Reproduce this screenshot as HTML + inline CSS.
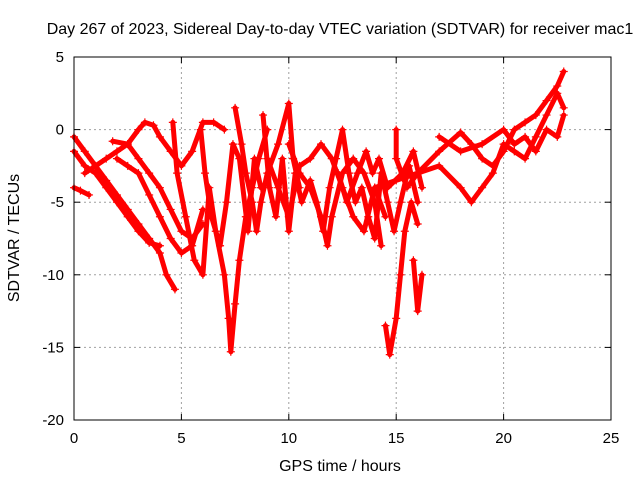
<!DOCTYPE html>
<html><head><meta charset="utf-8"><style>
html,body{margin:0;padding:0;background:#fff;}
svg{display:block;font-family:"Liberation Sans",sans-serif;}
</style></head><body>
<svg id="chart" width="640" height="480" viewBox="0 0 640 480">
<text x="340" y="34" font-size="16" text-anchor="middle">Day 267 of 2023, Sidereal Day-to-day VTEC variation (SDTVAR) for receiver mac1</text>
<text x="340" y="471" font-size="16" text-anchor="middle">GPS time / hours</text>
<text x="19" y="238" font-size="16" text-anchor="middle" transform="rotate(-90 19 238)">SDTVAR / TECUs</text>
<g id="grid"></g><g id="ticks"></g><g id="series"></g>
<rect x="74" y="57" width="537" height="363" fill="none" stroke="#000" stroke-width="1"/>
</svg>
<script>
const xTicks=[0,5,10,15,20,25];
const yTicks=[-20,-15,-10,-5,0,5];
const trackA=[[0,-0.5],[0.5,-1.5],[1,-2.5],[1.5,-3.5],[2,-4.5],[2.5,-5.5],[3,-6.5],[3.5,-7.5],[4,-8.5],[4.3,-10],[4.7,-11]];
const trackB=[[0,-1.5],[0.5,-2.5],[1,-3],[1.5,-4],[2,-5],[2.5,-6],[3,-7],[3.5,-7.8],[4,-8]];
const trackC=[[1.8,-0.8],[2.5,-1],[3,-2],[3.5,-3],[4,-4],[4.5,-5.5],[5,-7],[5.5,-7.5],[6,-6.5]];
const trackD=[[0.5,-3],[1,-2.5],[1.5,-2],[2,-1.5],[2.5,-1],[3,0],[3.3,0.5],[3.7,0.3],[4,-0.5],[4.5,-1.5],[5,-2.5],[5.5,-1.5],[6,0.5],[6.5,0.5],[7,0]];
const trackE=[[0,-4],[0.3,-4.2],[0.7,-4.5]];
const trackF=[[2,-2],[2.5,-2.5],[3,-3],[3.5,-4.5],[4,-6],[4.5,-7.5],[5,-8.5],[5.5,-8],[6,-5.5]];
const trackG=[[4.6,0.5],[4.8,-3],[5.2,-6],[5.6,-9],[6,-10],[6.3,-4],[6.6,-7],[7,-10],[7.2,-13],[7.3,-15.3],[7.5,-12],[7.7,-9],[8,-6],[8.3,-4],[8.6,-2],[9,0]];
const trackH=[[7.5,1.5],[7.8,-1],[8,-3],[8.3,-5],[8.5,-7],[8.7,-5],[9,-3],[9.5,-1],[10,1.8],[10.2,-2],[10.5,-4]];
const trackI=[[10,-1],[10.5,-3],[11,-4],[11.5,-6],[11.8,-8],[12,-6],[12.5,-3],[13,-2],[13.5,-3],[14,-5],[14.3,-8]];
const trackJ=[[14.5,-13.5],[14.7,-15.5],[15,-13],[15.2,-10],[15.4,-7],[15.7,-5],[16,-6.5]];
const trackK=[[15,0],[15,-2],[15.5,-4],[16,-3]];
const trackL=[[15.8,-9],[16,-12.5],[16.2,-10]];
const trackM=[[9,-2],[9.5,-4],[10,-6],[10.5,-2.5],[11,-2],[11.5,-1],[12,-2],[12.5,-4],[13,-6],[13.5,-7],[14,-4],[14.5,-6]];
const trackN=[[14,-4],[15,-3.5],[16,-3],[17,-1.5],[18,-0.2],[18.5,-1],[19,-2],[19.5,-2.5],[20,-1.5],[20.5,0],[21,0.5],[21.5,1],[22,2],[22.5,3],[22.8,4]];
const trackO=[[16,-3],[17,-2.5],[18,-4],[18.5,-5],[19,-4],[19.5,-3],[20,-1],[20.5,-1.5],[21,-2],[21.5,-0.5],[22,1],[22.5,2.5],[22.8,1.5]];
const trackP=[[17,-0.5],[18,-1.5],[19,-1],[20,0],[20.5,-1],[21,-0.5],[21.5,-1.5],[22,0],[22.5,-0.5],[22.8,1]];
const trackQ=[[8.8,1],[9.1,-4],[9.4,-6],[9.7,-2],[10,-7],[10.3,-3],[10.6,-5],[11,-3.5],[11.3,-5],[11.6,-7],[11.9,-4],[12.2,-2],[12.5,0],[12.8,-3],[13.1,-5],[13.4,-4],[13.7,-6],[14,-7.5],[14.3,-3],[14.6,-5],[14.9,-7],[15.2,-5],[15.6,-2.5],[16,-5]];
const trackR=[[5.9,0],[6.1,-3],[6.4,-6],[6.8,-8],[7.1,-5],[7.4,-1],[7.7,-2],[8.1,-7],[8.4,-2],[8.7,-4]];
const trackS=[[12.3,-3],[12.7,-5],[13.2,-3],[13.6,-1.5],[13.9,-3],[14.2,-2],[14.6,-4],[15.3,-3],[15.8,-1.5],[16.2,-4]];
const tracks=[trackA,trackB,trackC,trackD,trackE,trackF,trackG,trackH,trackI,trackJ,trackK,trackL,trackM,trackN,trackO,trackP,trackQ,trackR,trackS];
const NS="http://www.w3.org/2000/svg";
const X0=74,X1=611,Y0=420,Y1=57;
function sx(v){return X0+(v-0)/(25-0)*(X1-X0);}
function sy(v){return Y0-(v+20)/25*(Y0-Y1);}
const grid=document.getElementById('grid'),ticks=document.getElementById('ticks'),series=document.getElementById('series');
function mk(tag,attrs,parent){const e=document.createElementNS(NS,tag);for(const k in attrs)e.setAttribute(k,attrs[k]);parent.appendChild(e);return e;}
xTicks.forEach(t=>{
 const x=sx(t);
 if(t>0&&t<25){const g=mk('line',{x1:x,x2:x,y1:Y1,y2:Y0,stroke:'#a0a0a0','stroke-dasharray':'2,3'},grid);
 
 }
 mk('line',{x1:x,x2:x,y1:Y0,y2:Y0-6,stroke:'#000'},ticks);
 mk('line',{x1:x,x2:x,y1:Y1,y2:Y1+6,stroke:'#000'},ticks);
 const l=mk('text',{x:x,y:Y0+23,'font-size':15,'text-anchor':'middle'},ticks);l.textContent=t;
 
 
});
yTicks.forEach(t=>{
 const y=sy(t);
 if(t>-20&&t<5){const g=mk('line',{x1:X0,x2:X1,y1:y,y2:y,stroke:'#a0a0a0','stroke-dasharray':'2,3'},grid);
 
 }
 mk('line',{x1:X0,x2:X0+6,y1:y,y2:y,stroke:'#000'},ticks);
 mk('line',{x1:X1,x2:X1-6,y1:y,y2:y,stroke:'#000'},ticks);
 const l=mk('text',{x:X0-10,y:y+5,'font-size':15,'text-anchor':'end'},ticks);l.textContent=t;
 
 
});
tracks.forEach((tr,i)=>{
 const p=mk('polyline',{points:tr.map(d=>sx(d[0])+','+sy(d[1])).join(' '),fill:'none',stroke:'#ff0000','stroke-width':5,'stroke-linejoin':'round','stroke-linecap':'round'},series);
 
 
 tr.forEach(d=>{
  const x=sx(d[0]),y=sy(d[1]);
  const m=mk('path',{d:`M${x-4},${y}H${x+4}M${x},${y-4}V${y+4}`,stroke:'#ff0000','stroke-width':1.2},series);
  
  
 });
});
</script>
</body></html>
